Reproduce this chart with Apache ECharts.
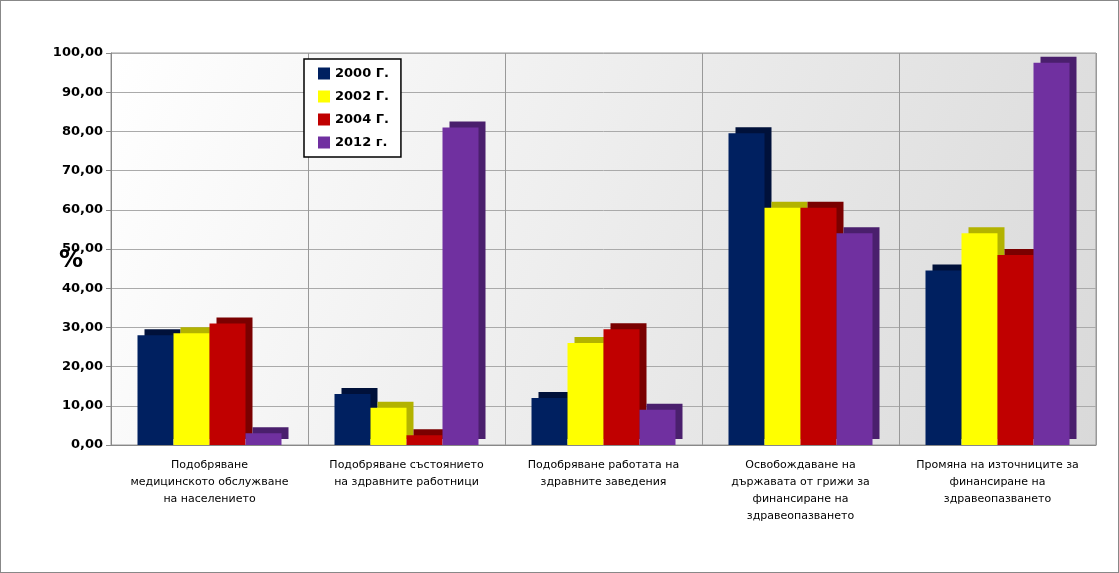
<!DOCTYPE html>
<html><head><meta charset="utf-8">
<script src="https://cdn.jsdelivr.net/npm/echarts@6/dist/echarts.min.js"></script>
<style>html,body{margin:0;background:#fff}#c{width:1119px;height:573px;box-sizing:border-box;border:1px solid #888}</style>
</head><body><div id="c"></div>
<script>
var categories = ['Подобряване\nмедицинското обслужване\nна населението', 'Подобряване състоянието\nна здравните работници', 'Подобряване работата на\nздравните заведения', 'Освобождаване на\nдържавата от грижи за\nфинансиране на\nздравеопазването', 'Промяна на източниците за\nфинансиране на\nздравеопазването'];
var seriesNames = ['2000 Г.', '2002 Г.', '2004 Г.', '2012 г.'];
var v2000 = [28, 13, 12, 79.5, 44.5];
var v2002 = [28.5, 9.5, 26, 60.5, 54];
var v2004 = [31, 2.5, 29.5, 60.5, 48.5];
var v2012 = [3, 81, 9, 54, 97.5];
var colors = ['#002060', '#ffff00', '#c00000', '#7030a0'];
var shades = ['#00113a', '#b3b300', '#7a0000', '#4a1f6d'];

var chart = echarts.init(document.getElementById('c'));
var all = [v2000, v2002, v2004, v2012];
chart.setOption({
  animation: false,
  grid: {left: 110, right: 22, top: 52, bottom: 127, show: true, borderColor: '#999',
    backgroundColor: new echarts.graphic.LinearGradient(0, 0, 1, 1, [{offset: 0, color: '#ffffff'}, {offset: 1, color: '#d9d9d9'}])},
  legend: {orient: 'vertical', left: 303, top: 58, itemWidth: 12, itemHeight: 12, itemGap: 10, icon: 'rect',
    borderColor: '#000', borderWidth: 1.5, backgroundColor: '#fff', padding: [8, 12, 8, 14],
    textStyle: {fontFamily: 'DejaVu Sans', fontWeight: 'bold', fontSize: 13, color: '#000'}},
  graphic: [{type: 'text', left: 58, top: 248, style: {text: '%', font: 'bold 24px DejaVu Sans', fill: '#000'}}],
  xAxis: {type: 'category', data: categories,
    axisLine: {lineStyle: {color: '#888'}}, axisTick: {show: false},
    splitLine: {show: true, lineStyle: {color: '#999'}},
    axisLabel: {interval: 0, margin: 12, lineHeight: 17, fontSize: 11, fontFamily: 'DejaVu Sans', color: '#000'}},
  yAxis: {type: 'value', min: 0, max: 100, interval: 10,
    axisLine: {show: true, lineStyle: {color: '#888'}}, axisTick: {show: true},
    splitLine: {lineStyle: {color: '#aaa'}},
    axisLabel: {fontSize: 13, fontWeight: 'bold', fontFamily: 'DejaVu Sans', color: '#000',
      formatter: function (v) { return v.toFixed(2).replace('.', ','); }}},
  series: all.map(function (d, i) {
    return {name: seriesNames[i], type: 'bar', data: d, barWidth: 36, barGap: '0%',
      itemStyle: {color: colors[i], borderWidth: 0,
        shadowColor: shades[i], shadowOffsetX: 7, shadowOffsetY: -6, shadowBlur: 0}};
  })
});
</script></body></html>
